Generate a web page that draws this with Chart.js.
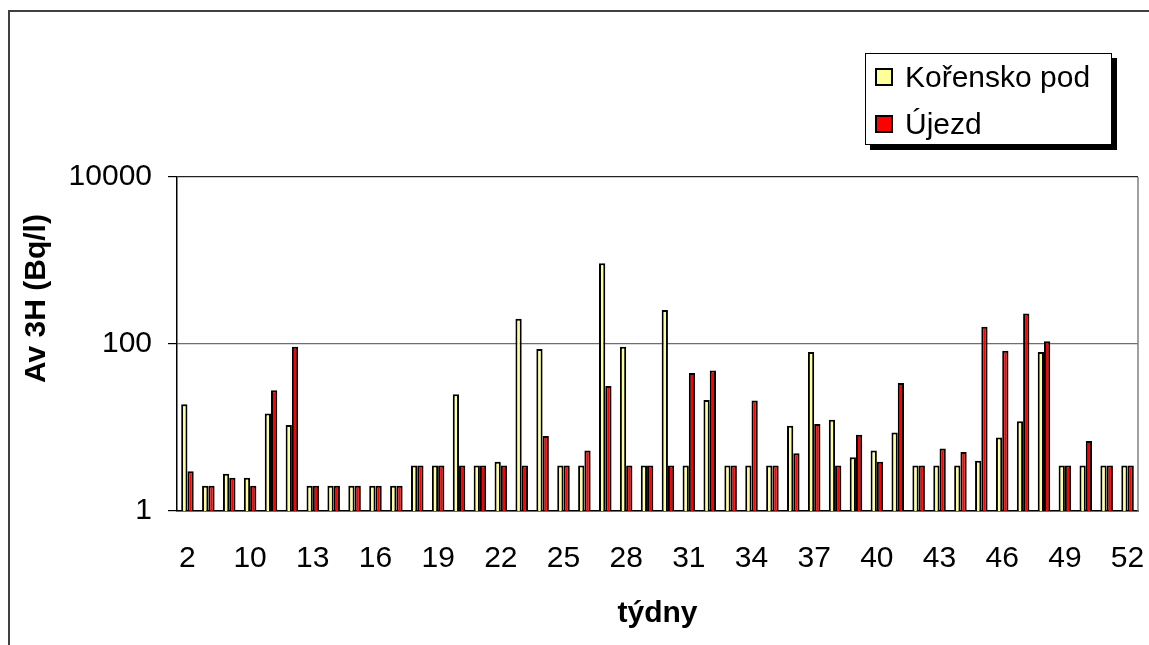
<!DOCTYPE html>
<html>
<head>
<meta charset="utf-8">
<script src="https://cdn.jsdelivr.net/npm/chart.js@4/dist/chart.umd.min.js"></script>
<style>
  html, body { margin: 0; padding: 0; background: #fff; }
  #wrap { position: relative; width: 1149px; height: 645px; overflow: hidden; }
  #chart { position: absolute; left: 0; top: 0; }
  #legend {
    position: absolute; left: 865px; top: 53px; width: 245px; height: 90px;
    border: 1px solid #000; background: #fff; box-shadow: 5px 5px 0 #000;
    font-family: "Liberation Sans", Arial, sans-serif; font-size: 30px; color: #000;
  }
  #legend .sw { position: absolute; left: 9px; width: 18px; height: 18px; box-sizing: border-box; border: 2px solid #000; }
  #legend .tx { position: absolute; left: 39px; line-height: 30px; white-space: nowrap; }
</style>
</head>
<body>
<div id="wrap">
  <canvas id="chart" width="1149" height="645"></canvas>
  <div id="legend"></div>
</div>
<script>
// Weeks sampled (x categories)
const weeks = ['2', '5', '8', '10', '11', '12', '13', '14', '15', '16', '17', '18', '19', '20', '21',
  '22', '23', '24', '25', '26', '27', '28', '29', '30', '31', '32', '33', '34', '35', '36', '37',
  '38', '39', '40', '41', '42', '43', '44', '45', '46', '47', '48', '49', '50', '51', '52'];

// Tritium activity, Bq/l
const korenskoPod = [19, 2, 2.8, 2.5, 14.7, 10.7, 2, 2, 2, 2, 2, 3.5, 3.5, 25, 3.5,
  3.9, 200, 87, 3.5, 3.5, 930, 93, 3.5, 255, 3.5, 21.4, 3.5, 3.5, 3.5, 10.5, 80,
  12.4, 4.4, 5.3, 8.7, 3.5, 3.5, 3.5, 4.0, 7.6, 11.9, 80, 3.5, 3.5, 3.5, 3.5];
const ujezd = [3.0, 2, 2.5, 2, 28, 93, 2, 2, 2, 2, 2, 3.5, 3.5, 3.5, 3.5,
  3.5, 3.5, 7.9, 3.5, 5.3, 31.5, 3.5, 3.5, 3.5, 45, 48, 3.5, 21, 3.5, 4.9, 11,
  3.5, 8.2, 3.9, 34, 3.5, 5.6, 5.1, 161, 83, 232, 108, 3.5, 6.9, 3.5, 3.5];

const seriesNames = ['Kořensko pod', 'Újezd'];
const yTicks = [1, 100, 10000];
const yTitle = 'Av 3H (Bq/l)';
const xTitle = 'týdny';

const FONT = '"Liberation Sans", Arial, sans-serif';
Chart.defaults.color = '#000';
Chart.defaults.font.family = FONT;

// Outer chart frame, plot-area right edge and the rotated y title
const decor = {
  id: 'decor',
  beforeDraw(chart) {
    const ctx = chart.ctx;
    ctx.save();
    ctx.strokeStyle = '#404040';
    ctx.lineWidth = 2;
    ctx.beginPath();
    ctx.moveTo(9, 700);
    ctx.lineTo(9, 11);
    ctx.lineTo(1200, 11);
    ctx.stroke();
    ctx.restore();
  },
  afterDraw(chart) {
    const ctx = chart.ctx;
    const a = chart.chartArea;
    ctx.save();
    ctx.strokeStyle = '#808080';
    ctx.lineWidth = 1.5;
    ctx.beginPath();
    ctx.moveTo(a.right, a.top);
    ctx.lineTo(a.right, a.bottom);
    ctx.stroke();
    ctx.translate(45, 298.5);
    ctx.rotate(-Math.PI / 2);
    ctx.font = 'bold 30px ' + FONT;
    ctx.fillStyle = '#000';
    ctx.textAlign = 'center';
    ctx.textBaseline = 'alphabetic';
    ctx.fillText(yTitle, 0, 0);
    ctx.restore();
  }
};

const chart = new Chart(document.getElementById('chart'), {
  type: 'bar',
  data: {
    labels: weeks,
    datasets: [
      { label: seriesNames[0], data: korenskoPod, backgroundColor: '#FFFF99', borderColor: '#000', borderWidth: 2 },
      { label: seriesNames[1], data: ujezd, backgroundColor: '#FF0000', borderColor: '#000', borderWidth: 2 }
    ]
  },
  options: {
    responsive: false,
    animation: false,
    devicePixelRatio: 1,
    layout: { padding: { left: 0, top: 177, right: 11, bottom: 0 } },
    datasets: { bar: { categoryPercentage: 0.6, barPercentage: 1.0 } },
    plugins: { legend: { display: false }, tooltip: { enabled: false } },
    scales: {
      x: {
        grid: { display: false },
        border: { color: '#000', width: 1.5 },
        ticks: {
          autoSkip: false, maxRotation: 0, padding: 22,
          font: { size: 30 },
          callback(v, i) { return i % 3 === 0 ? weeks[i] : ''; }
        },
        title: { display: true, text: xTitle, font: { size: 30, weight: 'bold' }, padding: { top: 0, bottom: 13 } },
        afterFit(s) { s.height = 134; s.paddingLeft = 0; s.paddingRight = 0; }
      },
      y: {
        type: 'logarithmic',
        min: yTicks[0],
        max: yTicks[yTicks.length - 1],
        afterBuildTicks(s) { s.ticks = yTicks.map(v => ({ value: v })); },
        grid: {
          color: c => (c.tick && c.tick.value === 10000 ? '#222' : '#6e6e6e'),
          tickColor: '#000', tickLength: 9, lineWidth: 1.2
        },
        border: { color: '#000', width: 1.5 },
        ticks: { padding: 16, font: { size: 30 }, callback: v => String(v) },
        afterFit(s) { s.width = 177; }
      }
    }
  },
  plugins: [decor]
});

// HTML legend built from the datasets
const legend = document.getElementById('legend');
chart.data.datasets.forEach((ds, i) => {
  const sw = document.createElement('div');
  sw.className = 'sw';
  sw.style.top = (14 + i * 47) + 'px';
  sw.style.background = ds.backgroundColor;
  const tx = document.createElement('div');
  tx.className = 'tx';
  tx.style.top = (8 + i * 47) + 'px';
  tx.textContent = ds.label;
  legend.appendChild(sw);
  legend.appendChild(tx);
});
</script>
</body>
</html>
